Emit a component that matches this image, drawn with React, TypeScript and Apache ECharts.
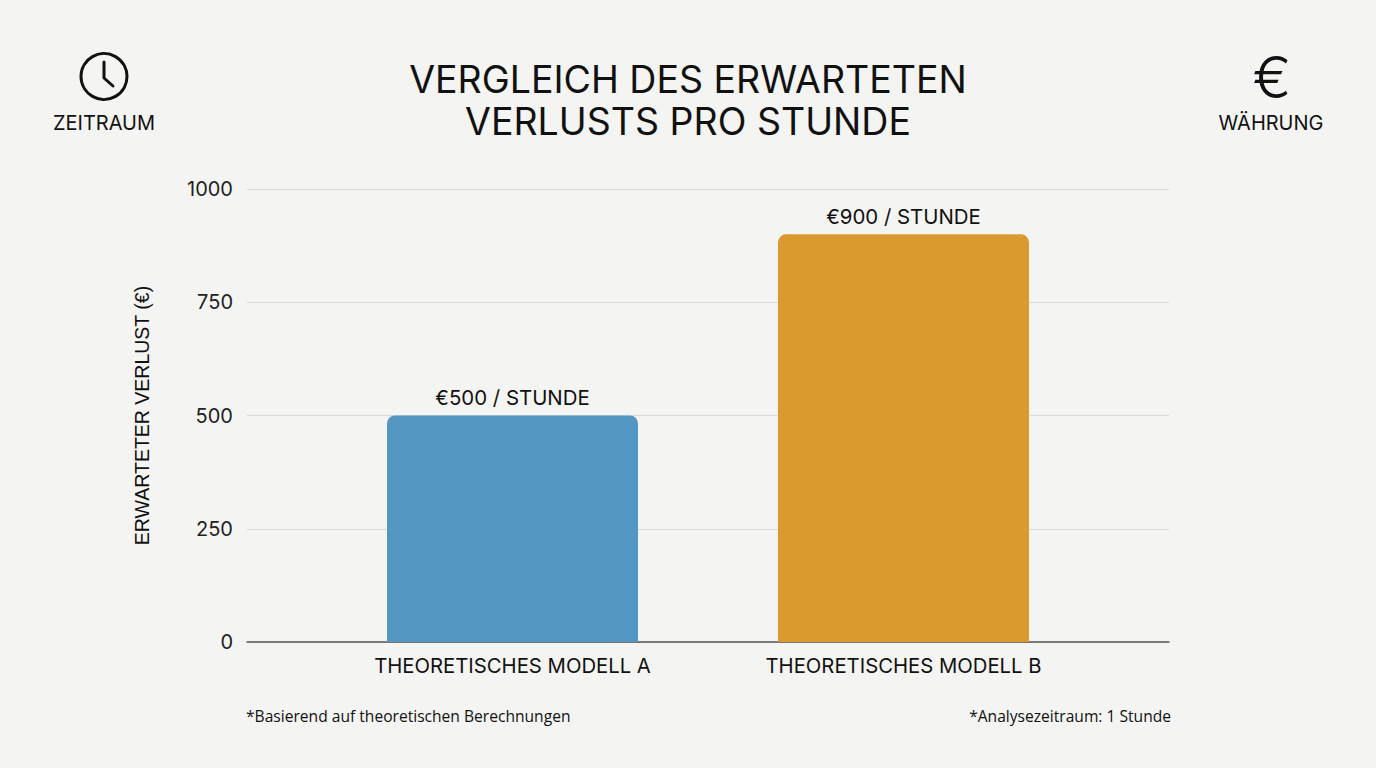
import React, { useEffect, useRef } from 'react';
import * as echarts from 'echarts';

const categories = ['THEORETISCHES MODELL A', 'THEORETISCHES MODELL B'];
const lossValues = [500, 900];
const barLabels = ['€500 / STUNDE', '€900 / STUNDE'];
const barColors = ['#5497C3', '#DB9A30'];
const yTicks = { min: 0, max: 1000, interval: 250 };

const FONT = 'Inter, "Noto Sans", sans-serif';

const App: React.FC = () => {
  const chartRef = useRef<HTMLDivElement>(null);

  useEffect(() => {
    document.body.style.margin = '0';
    if (!chartRef.current) return;
    const chart = echarts.init(chartRef.current, undefined, { renderer: 'svg' });

    const options = {
      animation: false,
      backgroundColor: '#F4F4F2',
      title: {
        text: 'VERGLEICH DES ERWARTETEN\nVERLUSTS PRO STUNDE',
        left: 'center',
        top: 53,
        textStyle: {
          fontFamily: FONT,
          fontSize: 37.5,
          fontWeight: 400,
          color: '#111',
          lineHeight: 42,
        },
      },
      grid: [
        { left: 247, right: 207, top: 189, bottom: 126 },
        { left: 317, right: 277, top: 189, bottom: 126 },
      ],
      xAxis: [
        {
          gridIndex: 0,
          type: 'value',
          min: 0,
          max: 1,
          axisLine: { show: true, lineStyle: { color: '#555', width: 1.5 } },
          axisTick: { show: false },
          axisLabel: { show: false },
          splitLine: { show: false },
        },
        {
          gridIndex: 1,
          type: 'category',
          data: categories,
          axisLine: { show: false },
          axisTick: { show: false },
          axisLabel: {
            fontFamily: FONT,
            fontSize: 20.3,
            color: '#111',
            margin: 13,
          },
        },
      ],
      yAxis: [
        {
          gridIndex: 0,
          type: 'value',
          ...yTicks,
          name: 'ERWARTETER VERLUST (€)',
          nameLocation: 'middle',
          nameGap: 95,
          nameTextStyle: {
            fontFamily: '"Liberation Sans", Arial, sans-serif',
            fontSize: 19.5,
            color: '#111',
          },
          axisLine: { show: false },
          axisTick: { show: false },
          axisLabel: {
            fontFamily: FONT,
            fontSize: 20,
            color: '#222',
            margin: 14,
            formatter: (v: number) => String(v),
          },
          splitLine: { lineStyle: { color: '#DADADA', width: 1 } },
        },
        {
          gridIndex: 1,
          type: 'value',
          ...yTicks,
          show: false,
          splitLine: { show: false },
        },
      ],
      series: [
        {
          type: 'bar',
          xAxisIndex: 1,
          yAxisIndex: 1,
          barWidth: 251,
          data: lossValues.map((v, i) => ({
            value: v,
            itemStyle: { color: barColors[i], borderRadius: [8, 8, 0, 0] },
            label: { formatter: barLabels[i] },
          })),
          label: {
            show: true,
            position: 'top',
            distance: 8,
            fontFamily: FONT,
            fontSize: 20.4,
            color: '#111',
          },
        },
      ],
      graphic: [
        {
          type: 'circle',
          shape: { cx: 104, cy: 76.5, r: 23 },
          style: { fill: 'none', stroke: '#111', lineWidth: 3 },
        },
        {
          type: 'polyline',
          shape: { points: [[104, 62], [104, 78], [113, 86]] },
          style: { fill: 'none', stroke: '#111', lineWidth: 3, lineCap: 'round', lineJoin: 'round' },
        },
        {
          type: 'text',
          x: 104,
          y: 123,
          style: {
            text: 'ZEITRAUM',
            fontFamily: FONT,
            fontSize: 20,
            fill: '#111',
            align: 'center',
            verticalAlign: 'middle',
          },
        },
        {
          type: 'text',
          x: 1272,
          y: 77,
          style: {
            text: '€',
            fontFamily: FONT,
            fontSize: 58,
            fontWeight: 300,
            fill: '#111',
            align: 'center',
            verticalAlign: 'middle',
          },
        },
        {
          type: 'text',
          x: 1271,
          y: 123,
          style: {
            text: 'WÄHRUNG',
            fontFamily: FONT,
            fontSize: 20,
            fill: '#111',
            align: 'center',
            verticalAlign: 'middle',
          },
        },
        {
          type: 'text',
          x: 246,
          y: 716,
          style: {
            text: '*Basierend auf theoretischen Berechnungen',
            fontFamily: '"Open Sans", sans-serif',
            fontSize: 15.6,
            fill: '#111',
            align: 'left',
            verticalAlign: 'middle',
          },
        },
        {
          type: 'text',
          x: 1171,
          y: 716,
          style: {
            text: '*Analysezeitraum: 1 Stunde',
            fontFamily: '"Open Sans", sans-serif',
            fontSize: 15.6,
            fill: '#111',
            align: 'right',
            verticalAlign: 'middle',
          },
        },
      ],
    };

    chart.setOption(options);
    return () => {
      chart.dispose();
    };
  }, []);

  return <div ref={chartRef} style={{ width: '1376px', height: '768px' }} />;
};

export default App;
